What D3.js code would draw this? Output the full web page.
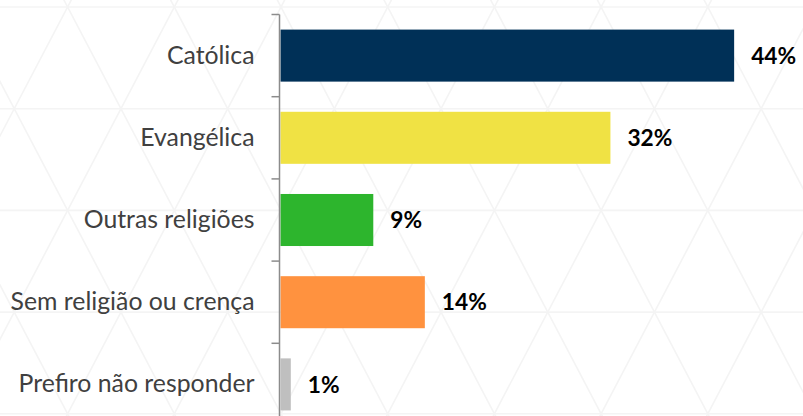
<!DOCTYPE html>
<html>
<head>
<meta charset="utf-8">
<script src="https://cdn.jsdelivr.net/npm/d3@7"></script>
<style>
  html, body { margin: 0; padding: 0; background: #ffffff; }
  svg { display: block; }
</style>
</head>
<body>
<svg id="chart" width="803" height="416"></svg>
<script>
// Religião declarada (%)
const categories = ["Católica", "Evangélica", "Outras religiões", "Sem religião ou crença", "Prefiro não responder"];
const values = [44, 32, 9, 14, 1];
const valueLabels = ["44%", "32%", "9%", "14%", "1%"];
const colors = ["#003057", "#f0e244", "#2db52d", "#ff923f", "#bfbfbf"];

const W = 803, H = 416;
const FONT = "Lato, 'Open Sans', sans-serif";
const svg = d3.select("#chart");

// Decorative triangular background grid
const bg = svg.append("g").attr("class", "bg-pattern");
const rowH = 101.7, colW = 106.7, gy0 = 7, gx0 = 281;
const slope = (colW / 2) / rowH;
for (let k = -1; k <= 5; k++) {
  const yy = gy0 + k * rowH;
  bg.append("line").attr("x1", 0).attr("x2", W).attr("y1", yy).attr("y2", yy);
}
for (let n = -8; n <= 12; n++) {
  const vx = gx0 + n * colW;
  [-1, 1].forEach(s => {
    bg.append("line")
      .attr("x1", vx + s * slope * (-400 - gy0)).attr("y1", -400)
      .attr("x2", vx + s * slope * (900 - gy0)).attr("y2", 900);
  });
}
bg.selectAll("line").attr("stroke", "#f4f4f4").attr("stroke-width", 1.6);

// Scales
const axisX = 279.5;
const y = d3.scaleBand()
  .domain(categories)
  .range([14.5, 14.5 + 5 * 82.2])
  .paddingInner(0.367)
  .paddingOuter(0.1835);
const x = d3.scaleLinear()
  .domain([0, 44])
  .range([axisX + 1, axisX + 1 + 44 * 10.31]);

// Bars
svg.append("g").selectAll("rect")
  .data(categories)
  .join("rect")
  .attr("x", x(0))
  .attr("y", d => y(d))
  .attr("width", (d, i) => x(values[i]) - x(0))
  .attr("height", y.bandwidth())
  .attr("fill", (d, i) => colors[i]);

// Category axis
const axis = svg.append("g")
  .attr("transform", `translate(${axisX},0)`)
  .call(d3.axisLeft(y).tickSize(0).tickPadding(25));
axis.select(".domain").remove();
axis.selectAll("text")
  .attr("font-family", FONT)
  .attr("font-size", 20)
  .attr("fill", "#404040");

// Fit label size to the longest label
const longest = axis.selectAll("text").nodes()
  .reduce((m, n) => Math.max(m, n.getComputedTextLength()), 0);
const labelSize = 20 * 244 / longest;
axis.selectAll("text").attr("font-size", labelSize);

// Axis line and boundary ticks
const step = y.step();
const bandTop = y.range()[0];
svg.append("line")
  .attr("x1", axisX).attr("x2", axisX)
  .attr("y1", bandTop).attr("y2", H + 10)
  .attr("stroke", "#8c8c8c").attr("stroke-width", 1.5);
svg.append("g").selectAll("line")
  .data(d3.range(categories.length + 1))
  .join("line")
  .attr("x1", axisX - 8).attr("x2", axisX)
  .attr("y1", i => bandTop + i * step).attr("y2", i => bandTop + i * step)
  .attr("stroke", "#8c8c8c").attr("stroke-width", 1.5);

// Value labels
const vl = svg.append("g").selectAll("text")
  .data(categories)
  .join("text")
  .attr("x", (d, i) => x(values[i]) + 17)
  .attr("y", d => y(d) + y.bandwidth() / 2)
  .attr("dy", "0.36em")
  .attr("font-family", FONT)
  .attr("font-weight", "bold")
  .attr("font-size", 20)
  .attr("fill", "#000000")
  .text((d, i) => valueLabels[i]);
const w44 = vl.nodes()[0].getComputedTextLength();
vl.attr("font-size", 20 * 45 / w44);
</script>
</body>
</html>
